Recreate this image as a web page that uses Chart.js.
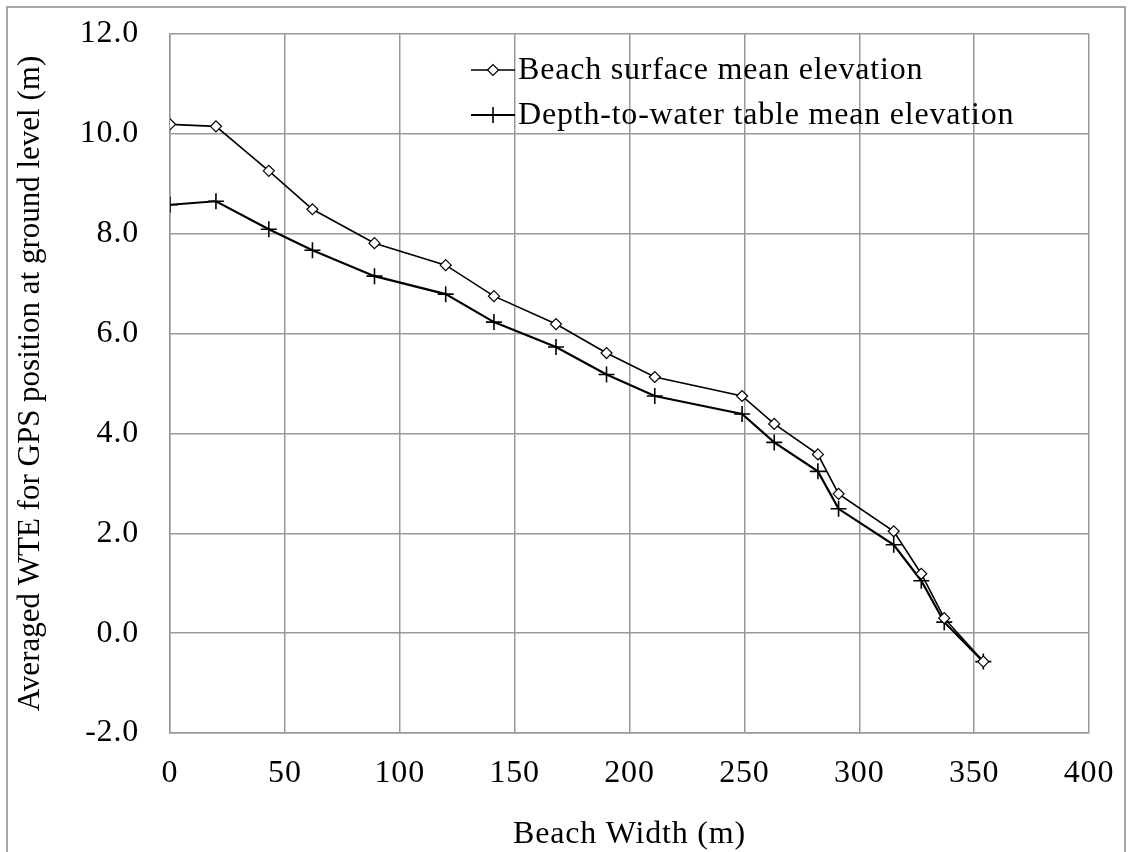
<!DOCTYPE html>
<html>
<head>
<meta charset="utf-8">
<script src="https://cdn.jsdelivr.net/npm/chart.js@4/dist/chart.umd.min.js"></script>
<style>
  html, body { margin: 0; padding: 0; background: #ffffff; }
  #wrap { position: relative; width: 1132px; height: 852px; overflow: hidden; background: #fff; }
  #frame { position: absolute; left: 6px; top: 6px; width: 1120px; height: 900px;
           border: 2px solid #a6a6a6; box-sizing: border-box; }
  canvas { position: absolute; left: 0; top: 0; }
</style>
</head>
<body>
<div id="wrap">
  <div id="frame"></div>
  <canvas id="c" width="1132" height="852"></canvas>
</div>
<script>
// ---- data ----
const beachWidth = [0, 20, 43, 62, 89, 120, 141, 168, 190, 211, 249, 263, 282, 291, 315, 327, 337, 354];
const beachSurface = [10.19, 10.15, 9.26, 8.49, 7.81, 7.37, 6.75, 6.19, 5.61, 5.13, 4.75, 4.19, 3.58, 2.79, 2.04, 1.19, 0.30, -0.57];
const depthToWater = [8.58, 8.65, 8.09, 7.67, 7.15, 6.79, 6.23, 5.73, 5.18, 4.75, 4.39, 3.82, 3.24, 2.49, 1.77, 1.05, 0.22, -0.57];
const seriesNames = ["Beach surface mean elevation", "Depth-to-water table mean elevation"];
const xTitle = "Beach Width (m)";
const yTitle = "Averaged WTE for GPS position at ground level (m)";

const FONT = "'Liberation Serif', 'Times New Roman', serif";
const FSIZE = 32;
const YTITLE_SIZE = 31;
const SPACING = '0.8px';
const pts = (ys) => beachWidth.map((x, i) => ({ x: x, y: ys[i] }));

// horizontal texts in the reference are slightly widened
const widenText = {
  id: 'widenText',
  beforeLayout(chart) { chart.ctx.letterSpacing = SPACING; },
  beforeDraw(chart) { chart.ctx.letterSpacing = SPACING; }
};

const yAxisTitle = {
  id: 'yAxisTitle',
  afterDraw(chart) {
    const ctx = chart.ctx;
    const area = chart.chartArea;
    ctx.save();
    ctx.letterSpacing = '0px';
    ctx.fillStyle = '#000';
    ctx.font = YTITLE_SIZE + "px " + FONT;
    ctx.translate(31, (area.top + area.bottom) / 2);
    ctx.rotate(-Math.PI / 2);
    ctx.textAlign = 'center';
    ctx.textBaseline = 'middle';
    ctx.fillText(yTitle, 0, 0);
    ctx.restore();
  }
};

const insideLegend = {
  id: 'insideLegend',
  afterDraw(chart) {
    const ctx = chart.ctx;
    const rows = [70, 115];
    chart.data.datasets.forEach((ds, i) => {
      const y = rows[i];
      ctx.save();
      ctx.strokeStyle = ds.borderColor;
      ctx.lineWidth = ds.borderWidth;
      ctx.beginPath();
      ctx.moveTo(471, y);
      ctx.lineTo(515, y);
      ctx.stroke();
      ctx.fillStyle = ds.pointBackgroundColor;
      ctx.strokeStyle = ds.pointBorderColor;
      ctx.lineWidth = ds.pointBorderWidth;
      Chart.helpers.drawPoint(ctx, {
        pointStyle: ds.pointStyle, radius: ds.pointRadius, borderWidth: ds.pointBorderWidth
      }, 493, y);
      ctx.restore();
      ctx.save();
      ctx.letterSpacing = SPACING;
      ctx.fillStyle = '#000';
      ctx.font = FSIZE + "px " + FONT;
      ctx.textBaseline = 'middle';
      ctx.textAlign = 'left';
      ctx.fillText(ds.label, 518, y + 1);
      ctx.restore();
    });
  }
};

new Chart(document.getElementById('c'), {
  type: 'line',
  data: {
    datasets: [
      {
        label: seriesNames[0],
        data: pts(beachSurface),
        borderColor: '#000000',
        backgroundColor: '#ffffff',
        borderWidth: 1.6,
        pointStyle: 'rectRot',
        pointRadius: 5.5,
        pointBorderWidth: 1.2,
        pointBackgroundColor: '#ffffff',
        pointBorderColor: '#000000',
        tension: 0
      },
      {
        label: seriesNames[1],
        data: pts(depthToWater),
        borderColor: '#000000',
        backgroundColor: '#000000',
        borderWidth: 2.2,
        pointStyle: 'cross',
        pointRadius: 8,
        pointBorderWidth: 1.6,
        pointBackgroundColor: '#000000',
        pointBorderColor: '#000000',
        tension: 0
      }
    ]
  },
  options: {
    responsive: false,
    animation: false,
    devicePixelRatio: 1,
    layout: { padding: { left: 0, top: 34, right: 43, bottom: 0 } },
    plugins: { legend: { display: false }, tooltip: { enabled: false } },
    scales: {
      x: {
        type: 'linear',
        min: 0, max: 400,
        border: { display: true, color: '#999999', width: 1.5 },
        grid: { color: '#999999', lineWidth: 1.5, drawTicks: true, tickLength: 21, tickColor: 'rgba(0,0,0,0)' },
        ticks: { stepSize: 50, padding: 0, color: '#000', font: { family: FONT, size: FSIZE } },
        title: { display: true, text: xTitle, color: '#000', font: { family: FONT, size: FSIZE, lineHeight: 1 }, padding: { top: 0, bottom: 1 } },
        afterFit(s) { s.height = 119; }
      },
      y: {
        min: -2, max: 12,
        border: { display: true, color: '#999999', width: 1.5 },
        grid: { color: '#999999', lineWidth: 1.5, drawTicks: true, tickLength: 31, tickColor: 'rgba(0,0,0,0)' },
        ticks: { stepSize: 2, padding: 0, color: '#000', font: { family: FONT, size: FSIZE },
                 callback: (v) => Number(v).toFixed(1) },
        title: { display: false },
        afterFit(s) { s.width = 170; }
      }
    }
  },
  plugins: [widenText, yAxisTitle, insideLegend]
});
</script>
</body>
</html>
